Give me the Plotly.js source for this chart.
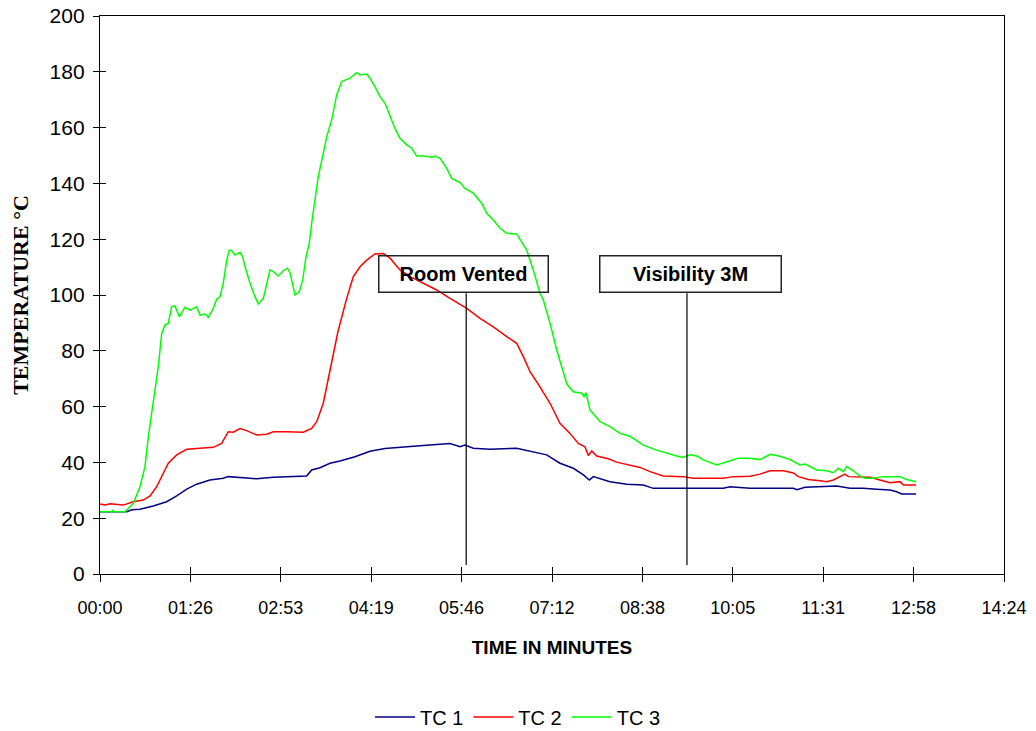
<!DOCTYPE html>
<html>
<head>
<meta charset="utf-8">
<script src="https://cdn.plot.ly/plotly-3.0.1.min.js"></script>
<style>
  html, body { margin: 0; padding: 0; background: #fff; }
  #chart { width: 1036px; height: 731px; }
</style>
</head>
<body>
<div id="chart"></div>
<script>
// Thermocouple readings: time in seconds from ignition, temperature in °C
const tc1Time = [0, 25.5, 30.6, 38.2, 50.9, 63.7, 73.3, 82.9, 92.4, 105.1, 117.8, 122.6, 137.0, 149.8, 165.6, 184.7, 197.5, 202.3, 210.3, 219.8, 229.4, 243.7, 258.0, 272.4, 286.7, 305.8, 325.0, 334.5, 344.1, 348.8, 356.8, 372.7, 398.2, 414.1, 426.9, 439.6, 452.4, 462.0, 467.7, 471.5, 487.4, 503.4, 519.3, 528.8, 557.5, 595.7, 602.1, 621.2, 662.6, 666.2, 673.8, 704.1, 716.9, 729.5, 742.3, 755.1, 761.4, 766.2, 779.9];
const tc1Temp = [22.3, 22.3, 23.0, 23.2, 24.4, 25.9, 28.0, 30.4, 32.2, 33.7, 34.3, 34.9, 34.5, 34.1, 34.7, 35.1, 35.1, 37.3, 38.1, 39.7, 40.5, 42.0, 44.0, 45.0, 45.5, 46.0, 46.5, 46.8, 45.6, 46.2, 45.1, 44.7, 45.1, 43.8, 42.7, 39.7, 37.9, 35.5, 33.7, 34.9, 33.1, 32.2, 31.9, 30.7, 30.7, 30.7, 31.3, 30.7, 30.7, 30.2, 31.1, 31.5, 30.7, 30.7, 30.4, 30.1, 29.5, 28.7, 28.7];

const tc2Time = [0, 4.8, 9.6, 22.3, 31.8, 41.4, 47.8, 54.2, 60.5, 65.3, 73.3, 82.9, 95.6, 108.3, 116.3, 122.6, 127.4, 133.8, 140.2, 149.8, 159.3, 165.6, 178.4, 194.3, 202.3, 207.1, 213.4, 219.8, 227.5, 235.8, 242.1, 248.5, 254.9, 262.8, 270.8, 277.2, 286.7, 296.3, 309.0, 321.8, 334.5, 350.5, 363.2, 375.9, 388.7, 398.2, 404.6, 411.0, 420.5, 430.1, 439.6, 449.2, 457.1, 463.5, 466.7, 470.0, 474.7, 485.8, 493.8, 506.5, 516.1, 525.7, 538.4, 557.5, 567.1, 583.0, 595.7, 605.3, 621.2, 630.8, 640.4, 653.1, 662.7, 667.5, 677.0, 688.2, 694.5, 700.9, 705.7, 712.1, 715.2, 726.4, 735.9, 745.5, 755.1, 764.6, 767.8, 779.9];
const tc2Temp = [25.1, 24.7, 25.2, 24.7, 25.9, 26.5, 28.0, 31.3, 36.1, 39.7, 42.7, 44.7, 45.1, 45.4, 46.8, 51.0, 50.8, 52.1, 51.4, 49.8, 50.1, 51.0, 51.0, 50.8, 52.2, 54.6, 61.2, 73.1, 87.0, 98.8, 106.6, 110.1, 112.5, 114.7, 114.9, 113.2, 109.0, 106.6, 104.2, 101.8, 98.8, 95.2, 91.6, 88.6, 85.1, 82.7, 77.9, 72.5, 67.1, 61.2, 54.0, 50.4, 46.8, 45.6, 42.5, 44.1, 42.3, 41.3, 40.1, 39.1, 38.2, 36.7, 35.1, 34.9, 34.3, 34.3, 34.3, 34.9, 35.0, 35.8, 37.0, 37.0, 36.2, 34.9, 33.9, 33.4, 33.1, 33.7, 34.7, 35.8, 34.9, 34.9, 34.7, 33.7, 32.7, 33.1, 31.9, 31.9];

const tc3Time = [0, 11.5, 12.4, 13.4, 23.9, 31.8, 38.2, 43.0, 46.2, 49.4, 52.6, 55.7, 59.0, 62.1, 65.3, 68.5, 71.7, 75.8, 81.2, 86.0, 92.4, 95.6, 100.4, 103.5, 108.3, 111.5, 114.7, 117.8, 121.1, 123.6, 125.9, 129.0, 133.8, 136.4, 138.6, 143.4, 148.1, 151.3, 156.1, 159.3, 162.5, 165.6, 170.4, 175.2, 179.0, 181.6, 184.2, 186.4, 190.5, 193.7, 196.9, 200.0, 202.3, 205.5, 208.6, 213.4, 216.6, 221.4, 226.2, 231.0, 235.8, 238.9, 245.3, 248.5, 254.9, 258.0, 262.8, 267.6, 272.4, 277.2, 281.9, 286.7, 293.1, 297.9, 302.7, 310.6, 317.0, 320.2, 325.0, 331.4, 336.1, 344.1, 348.8, 356.8, 364.8, 369.6, 375.9, 382.3, 388.7, 398.2, 403.0, 407.8, 414.1, 420.5, 423.7, 430.1, 436.5, 442.8, 446.3, 452.4, 460.4, 462.6, 464.5, 468.3, 477.9, 487.4, 497.0, 506.5, 519.3, 532.1, 541.7, 551.2, 557.5, 564.0, 570.3, 576.6, 589.4, 599.0, 610.0, 621.2, 630.8, 640.4, 649.9, 659.5, 669.0, 673.8, 678.6, 685.0, 694.5, 700.9, 705.7, 710.4, 713.7, 720.0, 726.4, 731.2, 739.1, 748.7, 764.6, 771.0, 779.9];
const tc3Temp = [22.3, 22.3, 23.0, 22.3, 22.3, 25.3, 31.3, 38.5, 49.2, 57.6, 64.8, 74.3, 86.3, 89.2, 89.9, 95.8, 96.1, 92.2, 95.6, 94.6, 95.8, 92.8, 93.2, 92.0, 95.2, 98.5, 99.4, 104.2, 112.5, 116.1, 115.9, 114.3, 115.2, 113.7, 110.1, 104.2, 99.4, 96.8, 98.8, 103.6, 109.0, 108.4, 106.8, 108.7, 109.6, 108.0, 103.0, 100.0, 101.2, 105.4, 113.7, 118.5, 125.7, 134.0, 142.4, 150.8, 156.7, 162.7, 171.7, 176.5, 177.1, 177.7, 179.7, 178.9, 179.2, 177.7, 174.7, 171.1, 168.7, 163.9, 159.7, 156.2, 153.8, 152.6, 149.8, 149.8, 149.3, 149.8, 149.0, 145.4, 141.8, 140.3, 138.2, 136.5, 132.9, 129.3, 126.9, 123.9, 122.1, 121.9, 119.1, 116.1, 109.0, 100.6, 98.2, 89.9, 80.3, 71.9, 68.0, 65.3, 64.8, 63.6, 65.0, 58.8, 54.6, 52.8, 50.4, 49.4, 46.2, 44.4, 43.3, 42.3, 41.8, 42.7, 42.3, 40.9, 39.1, 40.3, 41.5, 41.5, 41.0, 42.9, 42.2, 41.0, 39.1, 39.4, 38.5, 37.3, 37.0, 36.3, 37.9, 36.7, 38.5, 37.0, 35.1, 34.3, 34.3, 34.9, 34.9, 33.9, 33.1];

const seriesNames = ['TC 1', 'TC 2', 'TC 3'];
const seriesColors = ['#000080', '#ff0000', '#00ff00'];

// Axis ticks: time every 86.4 s shown as mm:ss, temperature every 20 °C
const timeTicks = [0, 86.4, 172.8, 259.2, 345.6, 432, 518.4, 604.8, 691.2, 777.6, 864];
const timeTickLabels = ['00:00', '01:26', '02:53', '04:19', '05:46', '07:12', '08:38', '10:05', '11:31', '12:58', '14:24'];
const tempTicks = [0, 20, 40, 60, 80, 100, 120, 140, 160, 180, 200];

// Events marked on the test record
const eventLabels = ['Room Vented', 'Visibility 3M'];
const eventTimes = [350, 561];
const eventLineTop = 100.6;
const eventLineBottom = 3.2;
const eventLabelTemp = 107.7;

const font = 'Liberation Sans, Arial, sans-serif';

const traces = [
  [tc1Time, tc1Temp], [tc2Time, tc2Temp], [tc3Time, tc3Temp]
].map(([t, v], i) => ({
  x: t, y: v, type: 'scatter', mode: 'lines', name: seriesNames[i],
  line: { color: seriesColors[i], width: 1.5 }, hoverinfo: 'x+y+name'
}));

// invisible trace so the overlay axes (inner halves of the crossing ticks) are drawn
traces.push({
  x: [timeTicks[0]], y: [tempTicks[0]], xaxis: 'x2', yaxis: 'y2',
  mode: 'markers', marker: { opacity: 0 }, showlegend: false, hoverinfo: 'skip'
});

const xRange = [timeTicks[0], timeTicks[timeTicks.length - 1]];
const yRange = [tempTicks[0], tempTicks[tempTicks.length - 1]];

const shapes = eventTimes.map(t => ({
  type: 'line', xref: 'x', yref: 'y', x0: t, x1: t, y0: eventLineBottom, y1: eventLineTop,
  line: { color: '#000', width: 1.2 }
}));

const boxShift = [-3, 4];
const boxWidth = [168, 180];
const annotations = eventLabels.map((label, i) => ({
  x: eventTimes[i], y: eventLabelTemp, xref: 'x', yref: 'y',
  xshift: boxShift[i], text: '<b>' + label + '</b>', showarrow: false,
  font: { family: font, size: 20, color: '#000' },
  bordercolor: '#222', borderwidth: 1.5, borderpad: 0,
  width: boxWidth[i], height: 35, bgcolor: 'rgba(0,0,0,0)'
}));

const layout = {
  width: 1036, height: 731,
  margin: { l: 100, r: 32, t: 16, b: 157 },
  paper_bgcolor: '#fff', plot_bgcolor: '#fff',
  showlegend: true,
  legend: {
    orientation: 'h', xref: 'container', yref: 'container',
    x: 0.5, xanchor: 'center', y: 0.019, yanchor: 'middle',
    font: { family: font, size: 20, color: '#000' }, itemwidth: 40
  },
  xaxis: {
    range: xRange, tickmode: 'array', tickvals: timeTicks, ticktext: timeTickLabels,
    ticks: 'outside', ticklen: 7, tickwidth: 1, tickcolor: '#000',
    showline: true, linecolor: '#000', linewidth: 1.2, mirror: true,
    showgrid: false, zeroline: false, ticklabelstandoff: 10,
    tickfont: { family: font, size: 18, color: '#000' },
    title: { text: '<b>TIME IN MINUTES</b>', font: { family: font, size: 19, color: '#000' }, standoff: 24 },
    automargin: false
  },
  yaxis: {
    range: yRange, tickmode: 'array', tickvals: tempTicks,
    ticks: 'outside', ticklen: 6, tickwidth: 1, tickcolor: '#000',
    showline: true, linecolor: '#000', linewidth: 1.2, mirror: true,
    showgrid: false, zeroline: false, ticklabelstandoff: 4,
    tickfont: { family: font, size: 21, color: '#000' },
    title: { text: '<b>TEMPERATURE °C</b>', font: { family: 'Liberation Serif, Times New Roman, serif', size: 22, color: '#000' }, standoff: 14 },
    automargin: false
  },
  xaxis2: {
    overlaying: 'x', anchor: 'y', side: 'bottom', range: xRange,
    tickmode: 'array', tickvals: timeTicks, ticks: 'inside', ticklen: 7, tickwidth: 1, tickcolor: '#000',
    showticklabels: false, showline: false, showgrid: false, zeroline: false
  },
  yaxis2: {
    overlaying: 'y', anchor: 'x', side: 'left', range: yRange,
    tickmode: 'array', tickvals: tempTicks, ticks: 'inside', ticklen: 6, tickwidth: 1, tickcolor: '#000',
    showticklabels: false, showline: false, showgrid: false, zeroline: false
  },
  shapes: shapes,
  annotations: annotations
};

Plotly.newPlot('chart', traces, layout, { staticPlot: true, displayModeBar: false });
</script>
</body>
</html>
